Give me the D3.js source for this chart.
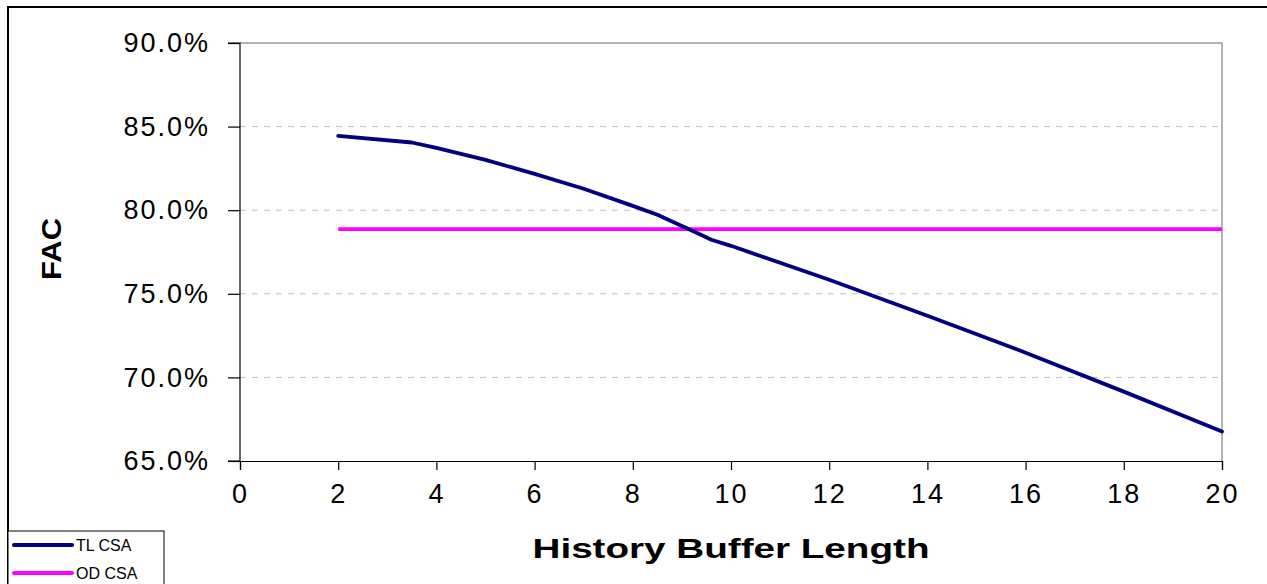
<!DOCTYPE html>
<html><head><meta charset="utf-8">
<script src="https://cdn.jsdelivr.net/npm/d3@7/dist/d3.min.js"></script>
<style>body{margin:0;background:#fff;}svg{display:block;font-family:"Liberation Sans",Arial,sans-serif;}</style>
</head><body>
<svg id="c" width="1267" height="584"></svg>
<script>
const tlX = [2, 3.5, 4, 5, 6, 7, 8, 8.5, 9.3, 9.6, 10, 12, 14, 16, 18, 20];
const tlY = [84.44, 84.05, 83.73, 83.01, 82.17, 81.28, 80.26, 79.73, 78.65, 78.23, 77.87, 75.84, 73.69, 71.48, 69.15, 66.76];
const odX = [2, 20];
const odY = [78.87, 78.87];
const seriesNames = ["TL CSA", "OD CSA"];
const seriesColors = ["#000080", "#ff00ff"];
const xTicks = [0,2,4,6,8,10,12,14,16,18,20];
const yTicks = [65,70,75,80,85,90];

const svg = d3.select("#c");
const L=240, R=1222, T=43, B=461;
const x = d3.scaleLinear().domain([0,20]).range([L,R]);
const y = d3.scaleLinear().domain([65,90]).range([B,T]);

// outer frame
svg.append("rect").attr("x",8).attr("y",7).attr("width",1300).attr("height",700)
  .attr("fill","#fff").attr("stroke","#000").attr("stroke-width",2);

// gridlines
svg.append("g").selectAll("line").data(yTicks.filter(d=>d>65&&d<90)).join("line")
  .attr("x1",L).attr("x2",R).attr("y1",d=>y(d)).attr("y2",d=>y(d))
  .attr("stroke","#c0c0c0").attr("stroke-width",1).attr("stroke-dasharray","6,6");

// plot border top/right gray
svg.append("path").attr("d",`M${L},${T}H${R}V${B}`).attr("fill","none").attr("stroke","#999").attr("stroke-width",1.5);

// axes
const yAxis = d3.axisLeft(y).tickValues(yTicks).tickSize(12).tickPadding(18).tickFormat(d=>d.toFixed(1)+"%");
const gy = svg.append("g").attr("transform",`translate(${L},0)`).call(yAxis);
const xAxis = d3.axisBottom(x).tickValues(xTicks).tickSize(9).tickPadding(14).tickFormat(d3.format("d"));
const gx = svg.append("g").attr("transform",`translate(0,${B})`).call(xAxis);
[gy,gx].forEach(g=>{
  g.select(".domain").attr("stroke","#000").attr("stroke-width",1.2);
  g.selectAll(".tick line").attr("stroke","#000").attr("stroke-width",1.2);
  g.selectAll("text").attr("font-size",27).attr("fill","#000").attr("font-family","Liberation Sans, Arial, sans-serif").attr("letter-spacing",2);
});
gy.select(".domain").attr("d",`M-12,${T}H0V${B}H-12`);

// lines
const line = d3.line().x(d=>x(d[0])).y(d=>y(d[1]));
const odData = odX.map((v,i)=>[v,odY[i]]);
const tlData = tlX.map((v,i)=>[v,tlY[i]]);
svg.append("path").datum(odData).attr("d",line).attr("fill","none").attr("stroke",seriesColors[1]).attr("stroke-width",3.8);
svg.append("path").datum(tlData).attr("d",line).attr("fill","none").attr("stroke",seriesColors[0]).attr("stroke-width",3.8).attr("stroke-linejoin","round").attr("stroke-linecap","round");

// axis titles
svg.append("text").attr("x",(L+R)/2).attr("y",558).attr("text-anchor","middle")
  .attr("font-weight","bold").attr("font-size",28)
  .attr("textLength",397).attr("lengthAdjust","spacingAndGlyphs").text("History Buffer Length");
svg.append("text").attr("transform",`translate(61,${(T+B)/2-3}) rotate(-90)`).attr("text-anchor","middle")
  .attr("font-weight","bold").attr("font-size",28)
  .attr("textLength",62).attr("lengthAdjust","spacingAndGlyphs").text("FAC");

// legend
const lg = svg.append("g");
lg.append("rect").attr("x",8).attr("y",531).attr("width",156).attr("height",80).attr("fill","#fff").attr("stroke","#000").attr("stroke-width",1);
seriesNames.forEach((n,i)=>{
  const yy = 545 + i*28;
  lg.append("line").attr("x1",14).attr("x2",72).attr("y1",yy).attr("y2",yy).attr("stroke",seriesColors[i]).attr("stroke-width",4).attr("stroke-linecap","round");
  lg.append("text").attr("x",76).attr("y",yy+6).attr("font-size",16).text(n);
});
</script>
</body></html>
